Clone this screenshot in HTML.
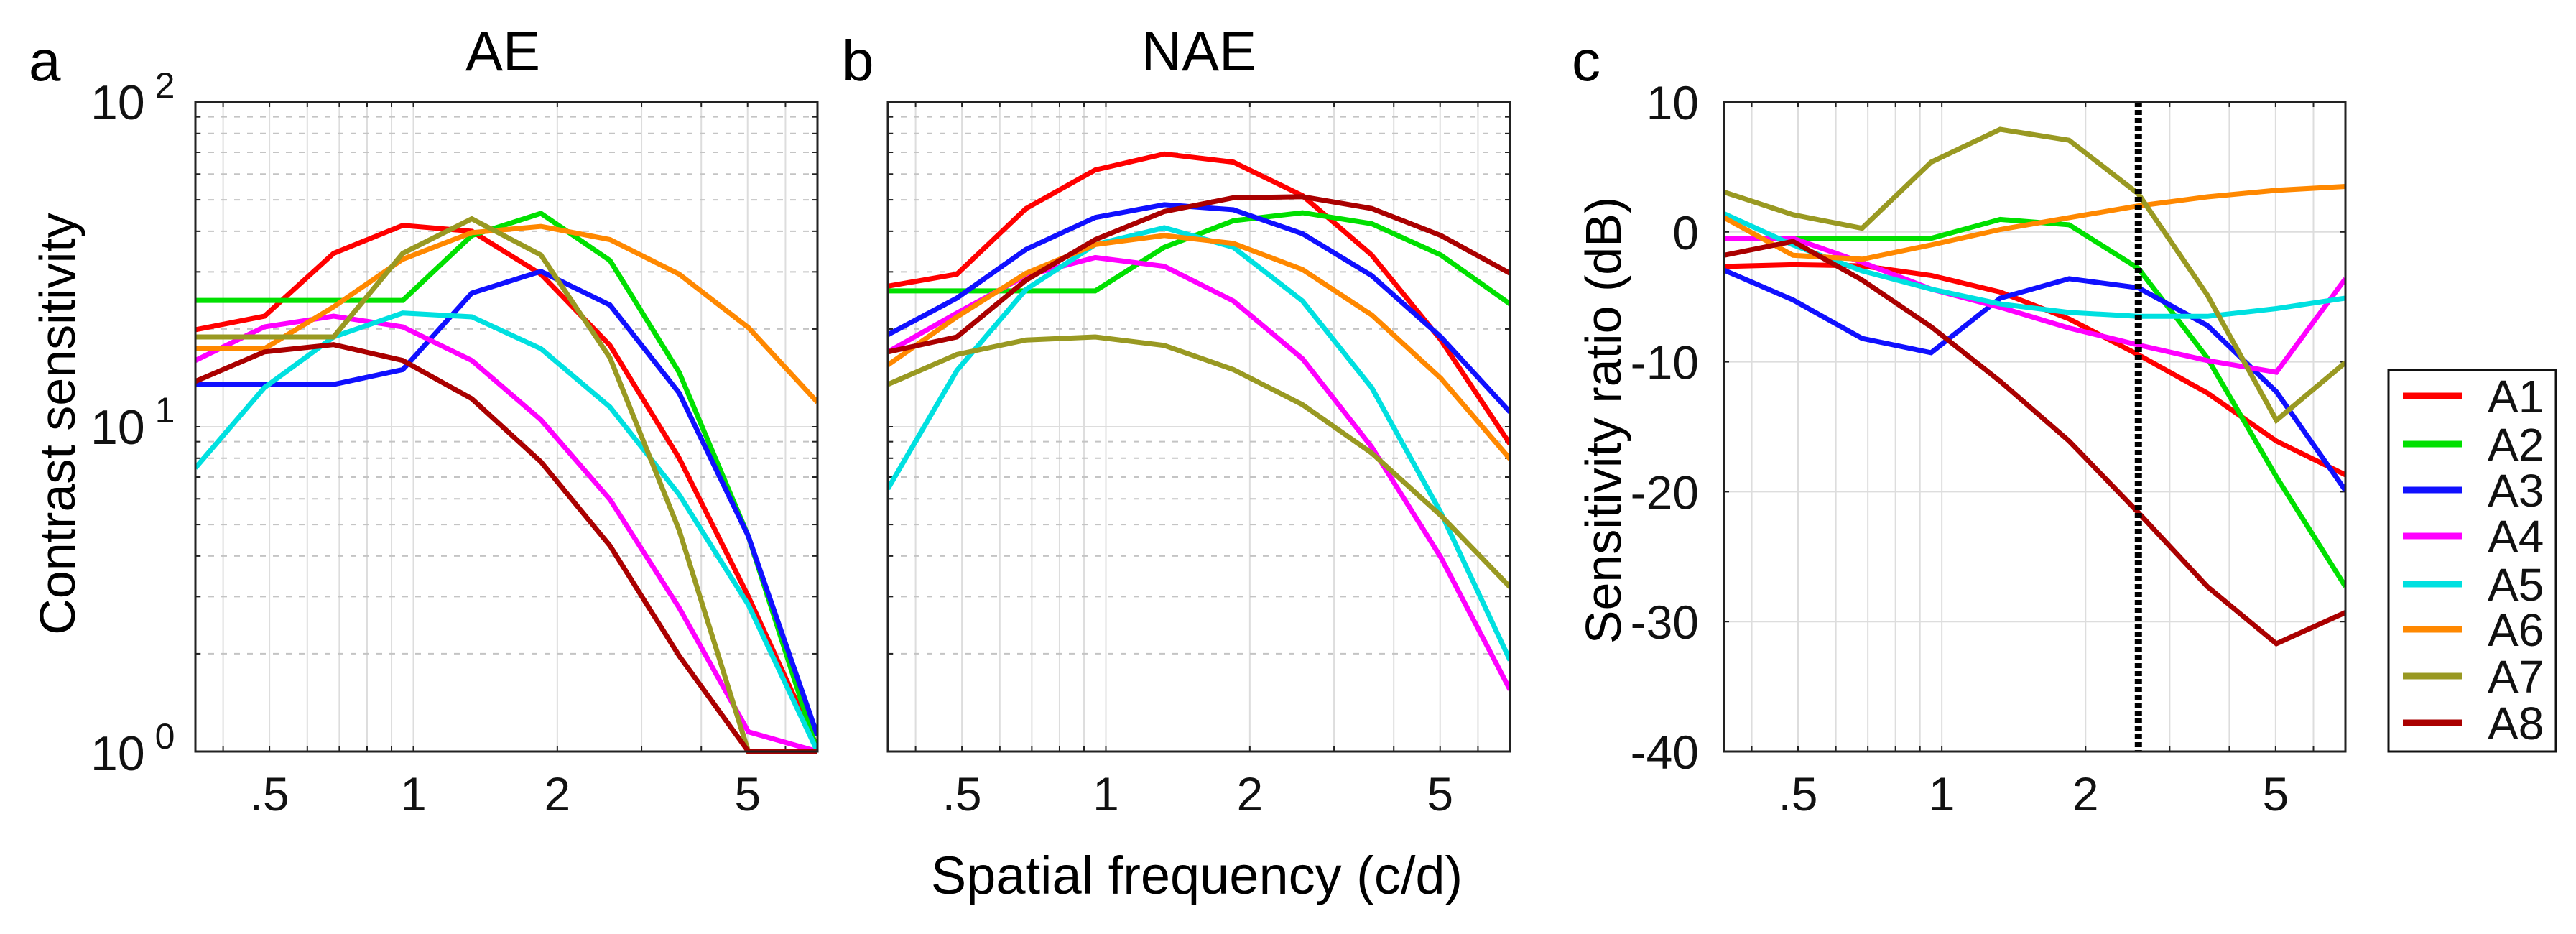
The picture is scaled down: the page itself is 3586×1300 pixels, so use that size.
<!DOCTYPE html>
<html><head><meta charset="utf-8"><style>
html,body{margin:0;padding:0;background:#fff;}
svg{display:block;font-family:"Liberation Sans","DejaVu Sans",sans-serif;}
</style></head><body>
<svg id="fig" width="3586" height="1300" viewBox="0 0 3586 1300" xmlns="http://www.w3.org/2000/svg">
<g id="layer"></g>
</svg>
<script>
// ---- data ----
const seriesNames = ["A1","A2","A3","A4","A5","A6","A7","A8"];
const seriesColors = ["#ff0000","#00e000","#1010ff","#ff00ff","#00e0e0","#ff8800","#999922","#aa0000"];
const freqs = [0.35,0.488,0.681,0.95,1.325,1.848,2.578,3.597,5.018,7.0];
const aeA1=[19.9,21.9,34.2,41.7,40,29.5,17.8,8.0,3.0,1.03];
const aeA2=[24.5,24.5,24.5,24.5,38.8,45.4,32.5,14.7,4.6,1.0];
const aeA3=[13.5,13.5,13.5,15,25.8,30.1,23.7,12.7,4.6,1.12];
const aeA4=[16,20.3,21.9,20.3,16,10.5,5.97,2.77,1.15,1.0];
const aeA5=[7.47,13.2,18.9,22.4,21.8,17.4,11.5,6.18,2.83,1.0];
const aeA6=[17.4,17.4,23.4,32.8,39.6,41.4,37.7,29.5,20.2,11.9];
const aeA7=[18.9,18.9,18.9,34.2,43.7,33.8,16.3,4.8,1.0,1.0];
const aeA8=[13.8,17.0,17.9,16,12.2,7.8,4.3,1.97,1.0,1.0];
const naeA1=[27.1,29.5,47,61.8,69.2,65.3,51.5,33.8,18.5,8.85];
const naeA2=[26.2,26.2,26.2,26.2,35.7,43.1,45.6,42.2,33.8,23.9];
const naeA3=[19.2,24.9,35.2,44.1,48.3,46.6,39.3,29.2,18.9,11.1];
const naeA4=[17.0,22.4,29.2,33.2,31.2,24.4,16.2,8.66,3.96,1.55];
const naeA5=[6.44,14.9,26.5,36.4,41,35.7,24.4,13.2,5.44,1.91];
const naeA6=[15.5,21.8,29.7,36.4,38.8,36.7,30.5,22.1,14.1,7.96];
const naeA7=[13.5,16.7,18.5,18.9,17.8,15,11.7,8.3,5.33,3.21];
const naeA8=[17.0,18.9,28.3,37.7,46,50.7,51.1,47,38.8,29.7];
const ratA1=[-2.66,-2.52,-2.61,-3.35,-4.63,-6.7,-9.45,-12.4,-16.1,-18.7];
const ratA2=[-0.5,-0.5,-0.5,-0.5,0.96,0.55,-2.8,-9.7,-18.85,-27.3];
const ratA3=[-2.94,-5.23,-8.2,-9.3,-5.1,-3.6,-4.3,-7.2,-12.3,-19.9];
const ratA4=[-0.5,-0.5,-2.34,-4.4,-5.8,-7.4,-8.7,-9.9,-10.8,-3.6];
const ratA5=[1.4,-1.0,-3.0,-4.4,-5.55,-6.2,-6.5,-6.5,-5.9,-5.1];
const ratA6=[1.1,-1.8,-2.1,-1.0,0.18,1.1,2.0,2.7,3.2,3.5];
const ratA7=[3.07,1.33,0.28,5.37,7.9,7.06,2.94,-4.86,-14.5,-10.05];
const ratA8=[-1.8,-0.73,-3.7,-7.3,-11.5,-16.1,-21.6,-27.3,-31.7,-29.3];
const xTickVals=[0.5,1,2,5];
const xTickLabels=[".5","1","2","5"];
const ratioTicks=[10,0,-10,-20,-30,-40];
const cutoffFreq=2.58;

const NS="http://www.w3.org/2000/svg";
const layer=document.getElementById('layer');
function mk(tag,attrs,parent,text){const e=document.createElementNS(NS,tag);for(const k in attrs)e.setAttribute(k,attrs[k]);if(text!==undefined)e.textContent=text;(parent||layer).appendChild(e);return e;}

const TOP=142,BOT=1046,XMIN=0.35,XMAX=7;
function xScale(L,R){return f=>L+(Math.log10(f)-Math.log10(XMIN))/(Math.log10(XMAX)-Math.log10(XMIN))*(R-L);}
const minorX=[0.4,0.5,0.6,0.7,0.8,0.9,1,2,3,4,5,6,7];

function panel(L,R,logY,data,prefix){
  const g=mk('g',{});
  
  
  const xs=xScale(L,R);
  const ys=logY?(v=>BOT-Math.log10(v)/2*(BOT-TOP)):(v=>BOT-(v+40)/50*(BOT-TOP));
  minorX.forEach(f=>{const x=xs(f);if(x>L+1&&x<R-1){
    const l=mk('line',{x1:x,x2:x,y1:TOP,y2:BOT,stroke:'#dddddd','stroke-width':2},g);
    
    mk('line',{x1:x,x2:x,y1:BOT,y2:BOT-7,stroke:'#222','stroke-width':2},g);
    mk('line',{x1:x,x2:x,y1:TOP,y2:TOP+7,stroke:'#222','stroke-width':2},g);}});
  if(logY){
    for(let d=0;d<2;d++)for(let m=1;m<10;m++){const v=Math.pow(10,d)*m;if(v<=1)continue;const y=ys(v);
      const l=mk('line',{x1:L,x2:R,y1:y,y2:y,stroke:m===1?'#dddddd':'#c4c4c4','stroke-width':2,'stroke-dasharray':m===1?'none':'8,10'},g);
      
      mk('line',{x1:L,x2:L+7,y1:y,y2:y,stroke:'#222','stroke-width':2},g);
      mk('line',{x1:R,x2:R-7,y1:y,y2:y,stroke:'#222','stroke-width':2},g);}
  } else {
    ratioTicks.forEach(v=>{const y=ys(v);
      const l=mk('line',{x1:L,x2:R,y1:y,y2:y,stroke:'#dddddd','stroke-width':2},g);
      
      mk('line',{x1:L,x2:L+7,y1:y,y2:y,stroke:'#222','stroke-width':2},g);
      mk('line',{x1:R,x2:R-7,y1:y,y2:y,stroke:'#222','stroke-width':2},g);});
  }
  const clip='clip-'+prefix;
  const cp=mk('clipPath',{id:clip},g);mk('rect',{x:L,y:TOP-4,width:R-L,height:BOT-TOP+8},cp);
  data.forEach((arr,i)=>{
    const pts=arr.map((v,j)=>xs(freqs[j]).toFixed(1)+','+ys(v).toFixed(1)).join(' ');
    const p=mk('polyline',{points:pts,fill:'none',stroke:seriesColors[i],'stroke-width':7,'stroke-linejoin':'miter','clip-path':'url(#'+clip+')'},g);
    
    
  });
  if(!logY){const x=xs(cutoffFreq);
    const c=mk('line',{x1:x,x2:x,y1:TOP,y2:BOT,stroke:'#000','stroke-width':10,'stroke-dasharray':'7,4'},g);
    }
  const b=mk('rect',{x:L,y:TOP,width:R-L,height:BOT-TOP,fill:'none',stroke:'#222','stroke-width':3},g);
  
  xTickVals.forEach((v,i)=>{
    const t=mk('text',{x:xs(v),y:1128,'font-size':66,'text-anchor':'middle',fill:'#111'},g,xTickLabels[i]);
    });
  return {xs,ys};
}

panel(272,1138,true,[aeA1,aeA2,aeA3,aeA4,aeA5,aeA6,aeA7,aeA8],'ae');
panel(1236,2102,true,[naeA1,naeA2,naeA3,naeA4,naeA5,naeA6,naeA7,naeA8],'nae');
const pc=panel(2400,3265,false,[ratA1,ratA2,ratA3,ratA4,ratA5,ratA6,ratA7,ratA8],'ratio');

[[2,166],[1,618],[0,1072]].forEach(([e,y])=>{
  const t=mk('text',{x:126,y:y,'font-size':68,fill:'#111'});
  
  t.textContent='10';
  mk('tspan',{dx:14,dy:-30,'font-size':50},t,String(e));
});
ratioTicks.forEach(v=>{
  const t=mk('text',{x:2365,y:pc.ys(v)+24,'font-size':66,'text-anchor':'end',fill:'#111'},layer,String(v));
  
});
function label(txt,x,y,size,name,extra){const t=mk('text',Object.assign({x:x,y:y,'font-size':size,fill:'#000'},extra||{}),layer,txt);return t;}
label('a',40,112,80,'panel-label-a');
label('b',1172,112,80,'panel-label-b');
label('c',2188,112,80,'panel-label-c');
label('AE',700,98,78,'title-ae',{'text-anchor':'middle'});
label('NAE',1669,98,78,'title-nae',{'text-anchor':'middle'});
label('Contrast sensitivity',0,0,70,'y-axis-title',{'text-anchor':'middle',transform:'translate(104,590) rotate(-90)'});
label('Sensitivity ratio (dB)',0,0,70,'ratio-y-axis-title',{'text-anchor':'middle',transform:'translate(2256,585) rotate(-90)'});
label('Spatial frequency (c/d)',1666,1244,74,'x-axis-title',{'text-anchor':'middle'});
const lg=mk('g',{});


mk('rect',{x:3325,y:515,width:233,height:531,fill:'#fff',stroke:'#111','stroke-width':3},lg);
const legendY=[551,618,682,746,813,876,941,1006];
seriesNames.forEach((n,i)=>{
  const e=mk('g',{},lg);
  
  
  mk('line',{x1:3345,x2:3427,y1:legendY[i],y2:legendY[i],stroke:seriesColors[i],'stroke-width':9},e);
  mk('text',{x:3463,y:legendY[i]+23,'font-size':64,fill:'#111'},e,n);
});
</script>
</body></html>
